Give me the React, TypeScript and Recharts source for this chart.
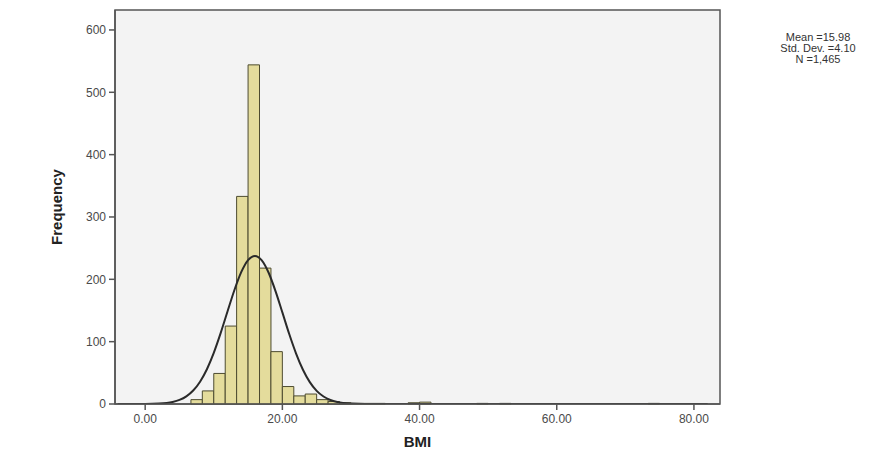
import React from "react";
import {
  ComposedChart,
  Line,
  XAxis,
  YAxis,
  ReferenceArea,
} from "recharts";

// histogram bins (BMI), width 1.667 each
const BIN_WIDTH = 5 / 3;
const binStart = [
  6.67, 8.33, 10, 11.67, 13.33, 15, 16.67, 18.33, 20, 21.67, 23.33, 25, 26.67,
  28.33, 30, 31.67, 33.33, 38.33, 40, 48.33, 51.67, 73.33,
];
const binCount = [
  7, 21, 49, 125, 333, 544, 218, 84, 28, 13, 16, 7, 4, 2, 1, 1, 1, 2, 3, 1, 1,
  1,
];

// normal curve
const curveBmi = [
  -4, 0, 2, 4, 5, 6, 7, 8, 9, 10, 11, 12, 13, 14, 15, 16, 17, 18, 19, 20, 21,
  22, 23, 24, 25, 26, 27, 28, 30, 32, 36, 50, 70, 82,
];
const curveFreq = [
  0, 0.1, 0.7, 3.3, 6.6, 12.3, 21.6, 35.8, 55.8, 82, 113.6, 148.3, 182.5,
  211.5, 230.9, 237.6, 230.4, 210.5, 181.1, 146.9, 112.2, 80.9, 54.9, 35.1,
  21.1, 12, 6.4, 3.2, 0.7, 0.1, 0, 0, 0, 0,
];

const xTicks = [0, 20, 40, 60, 80];
const yTicks = [0, 100, 200, 300, 400, 500, 600];
const stats = ["Mean =15.98", "Std. Dev. =4.10", "N =1,465"];

const curveData = curveBmi.map((bmi, i) => ({ bmi, freq: curveFreq[i] }));

const FONT = "'Liberation Sans', Arial, sans-serif";
const AXIS = "#555";

export default function App() {
  return (
    <div
      style={{
        position: "absolute",
        left: 0,
        top: 0,
        width: 893,
        height: 467,
        background: "#fff",
        fontFamily: FONT,
      }}
    >
      <ComposedChart
        width={893}
        height={467}
        margin={{ top: 10, right: 173, bottom: 13, left: 40 }}
      >
        <XAxis
          type="number"
          dataKey="bmi"
          domain={[-4.4, 83.8]}
          ticks={xTicks}
          allowDataOverflow
          tickFormatter={(v: number) => v.toFixed(2)}
          tick={{ fill: "#4a4a4a", fontSize: 12, fontFamily: FONT }}
          tickLine={{ stroke: AXIS, strokeWidth: 1.5 }}
          tickSize={6}
          tickMargin={4}
          axisLine={{ stroke: AXIS, strokeWidth: 1.5 }}
          height={50}
          label={{
            value: "BMI",
            position: "insideBottom",
            offset: 7,
            fill: "#222",
            fontSize: 15,
            fontWeight: "bold",
            fontFamily: FONT,
          }}
        />
        <YAxis
          type="number"
          domain={[0, 632]}
          ticks={yTicks}
          allowDataOverflow
          tick={{ fill: "#4a4a4a", fontSize: 12, fontFamily: FONT }}
          tickLine={{ stroke: AXIS, strokeWidth: 1.5 }}
          tickSize={6}
          tickMargin={3}
          axisLine={{ stroke: AXIS, strokeWidth: 1.5 }}
          width={75}
          label={{
            value: "Frequency",
            angle: -90,
            position: "insideLeft",
            offset: 17,
            textAnchor: "middle",
            fill: "#222",
            fontSize: 15,
            fontWeight: "bold",
            fontFamily: FONT,
          }}
        />
        <ReferenceArea
          x1={-4.4}
          x2={83.8}
          y1={0}
          y2={632}
          fill="#f3f3f3"
          fillOpacity={1}
          stroke={AXIS}
          strokeWidth={1.5}
        />
        {binStart.map((s, i) => (
          <ReferenceArea
            key={i}
            x1={s}
            x2={s + BIN_WIDTH}
            y1={0}
            y2={binCount[i]}
            fill="#e4dc9c"
            fillOpacity={1}
            stroke="#4d4b30"
            strokeWidth={1}
          />
        ))}
        <Line
          data={curveData}
          dataKey="freq"
          type="monotone"
          stroke="#2a2a2a"
          strokeWidth={2}
          dot={false}
          activeDot={false}
          isAnimationActive={false}
        />
      </ComposedChart>
      <div
        style={{
          position: "absolute",
          left: 758,
          top: 32,
          width: 120,
          textAlign: "center",
          fontSize: 11,
          lineHeight: "11px",
          color: "#333",
        }}
      >
        {stats.map((s) => (
          <div key={s}>{s}</div>
        ))}
      </div>
    </div>
  );
}
